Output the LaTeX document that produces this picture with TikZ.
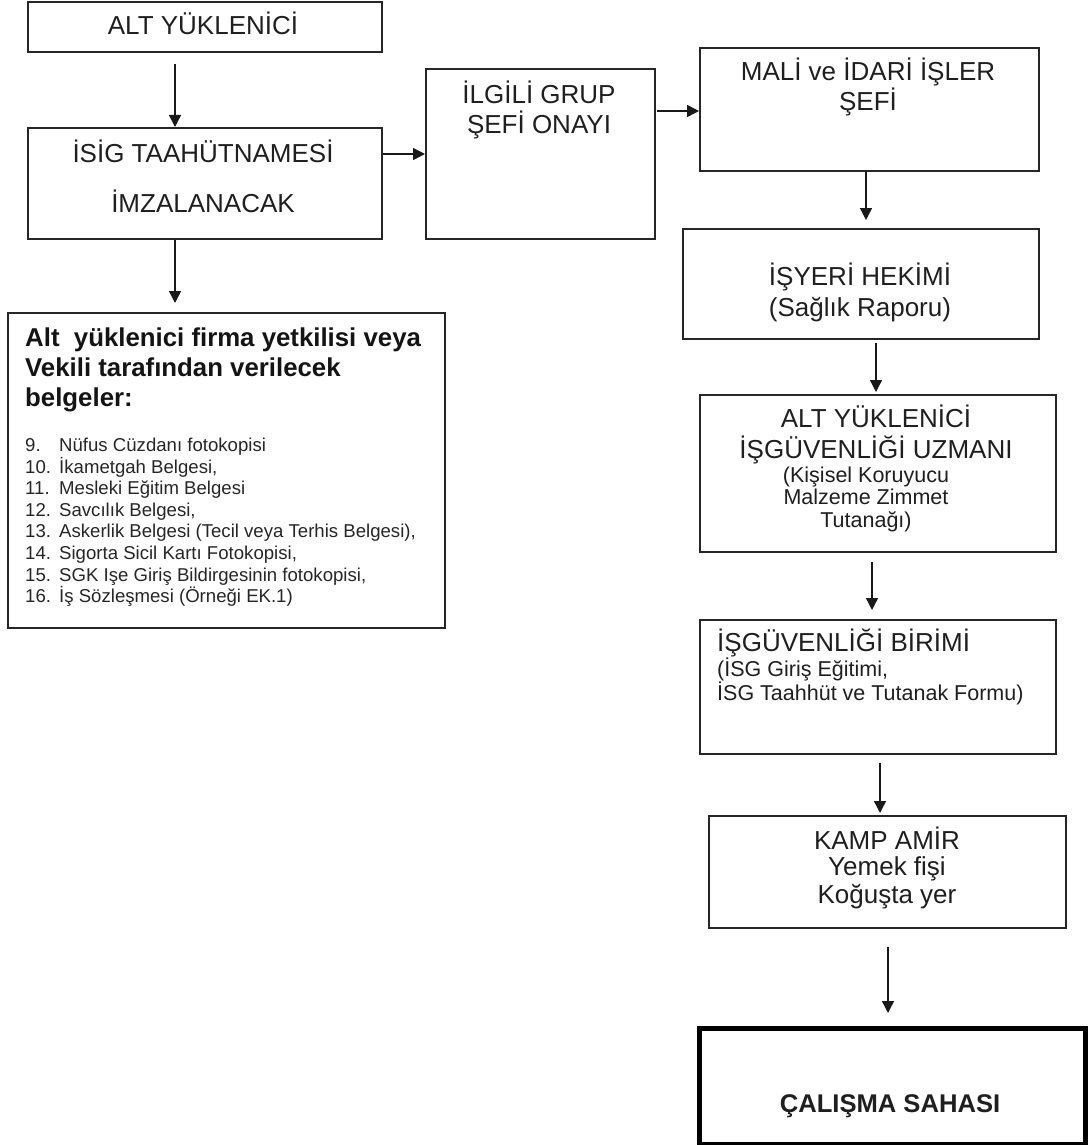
\documentclass[tikz,border=0pt]{standalone}
\usepackage{fontspec}
\setmainfont{Liberation Sans}
\usetikzlibrary{arrows.meta}
\begin{document}
\begin{tikzpicture}[x=1pt,y=-1pt,
  box/.style={draw=black!85, line width=1.6pt, inner sep=0pt, anchor=north west},
  arr/.style={draw=black!90, line width=1.4pt, -{Triangle[length=12pt,width=12pt]}},
  big/.style={font=\fontsize{26}{30}\selectfont, text=black!88, inner sep=0pt, anchor=base},
  bigl/.style={big, anchor=base west},
  small/.style={font=\fontsize{21.5}{24}\selectfont, text=black!88, inner sep=0pt, anchor=base},
  smalll/.style={small, anchor=base west},
  ttl/.style={font=\fontsize{25.8}{30}\selectfont\bfseries, text=black!92, inner sep=0pt, anchor=base west},
  lst/.style={font=\fontsize{18.6}{21}\selectfont, text=black!85, inner sep=0pt, anchor=base west},
]
\fill[white] (0,0) rectangle (1087,1145);
\useasboundingbox (0,0) rectangle (1087,1145);

% boxes
\node[box, minimum width=354pt, minimum height=50pt] (b1) at (27,1) {};
\node[box, minimum width=354pt, minimum height=111pt] (b2) at (27,127) {};
\node[box, minimum width=229pt, minimum height=170pt] (b3) at (425,68) {};
\node[box, minimum width=339pt, minimum height=123pt] (b4) at (699,47) {};
\node[box, minimum width=356pt, minimum height=110pt] (b5) at (682,228) {};
\node[box, minimum width=356pt, minimum height=157pt] (b6) at (699,394) {};
\node[box, minimum width=356pt, minimum height=134pt] (b7) at (699,619) {};
\node[box, minimum width=357pt, minimum height=112pt] (b8) at (708,815) {};
\node[box, line width=5pt, draw=black, minimum width=386pt, minimum height=116pt] (b9) at (697,1026) {};
\node[box, minimum width=437pt, minimum height=315pt] (docs) at (7,312) {};

% texts
\node[big] (t1) at (203,35) {ALT YÜKLENİCİ};
\node[big] (t2a) at (203,162) {İSİG TAAHÜTNAMESİ};
\node[big] (t2b) at (203,212) {İMZALANACAK};
\node[big] (t3a) at (539,103) {İLGİLİ GRUP};
\node[big] (t3b) at (539,133) {ŞEFİ ONAYI};
\node[big] (t4a) at (868,81) {MALİ ve İDARİ İŞLER};
\node[big] (t4b) at (868,111) {ŞEFİ};
\node[big] (t5a) at (860,285) {İŞYERİ HEKİMİ};
\node[big] (t5b) at (860,316) {(Sağlık Raporu)};
\node[big] (t6a) at (876,427) {ALT YÜKLENİCİ};
\node[big] (t6b) at (876,458) {İŞGÜVENLİĞİ UZMANI};
\node[small] (t6c) at (866,482) {(Kişisel Koruyucu};
\node[small] (t6d) at (866,504) {Malzeme Zimmet};
\node[small] (t6e) at (866,527) {Tutanağı)};
\node[bigl] (t7a) at (717,651) {İŞGÜVENLİĞİ BİRİMİ};
\node[smalll] (t7b) at (717,676) {(İSG Giriş Eğitimi,};
\node[smalll] (t7c) at (717,700) {İSG Taahhüt ve Tutanak Formu)};
\node[big] (t8a) at (887,849) {KAMP AMİR};
\node[big] (t8b) at (887,875) {Yemek fişi};
\node[big] (t8c) at (887,903) {Koğuşta yer};
\node[big, font=\fontsize{25.6}{30}\selectfont\bfseries] (t9) at (890,1112) {ÇALIŞMA SAHASI};

\node[ttl] (d1) at (25,346) {Alt\ \ yüklenici firma yetkilisi veya};
\node[ttl] (d2) at (25,376) {Vekili tarafından verilecek};
\node[ttl] (d3) at (25,406) {belgeler:};

\node[lst] (n1) at (25,451) {9.};
\node[lst] (l1) at (59,451) {Nüfus Cüzdanı fotokopisi};
\node[lst] (n2) at (25,473) {10.};
\node[lst] (l2) at (59,473) {İkametgah Belgesi,};
\node[lst] (n3) at (25,494) {11.};
\node[lst] (l3) at (59,494) {Mesleki Eğitim Belgesi};
\node[lst] (n4) at (25,516) {12.};
\node[lst] (l4) at (59,516) {Savcılık Belgesi,};
\node[lst] (n5) at (25,537) {13.};
\node[lst] (l5) at (59,537) {Askerlik Belgesi (Tecil veya Terhis Belgesi),};
\node[lst] (n6) at (25,559) {14.};
\node[lst] (l6) at (59,559) {Sigorta Sicil Kartı Fotokopisi,};
\node[lst] (n7) at (25,581) {15.};
\node[lst] (l7) at (59,581) {SGK Işe Giriş Bildirgesinin fotokopisi,};
\node[lst] (n8) at (25,602) {16.};
\node[lst] (l8) at (59,602) {İş Sözleşmesi (Örneği EK.1)};

% connectors
\coordinate (c1) at (175,64);
\draw[arr] (c1) -- (c1 |- b2.north);
\coordinate (c2) at (175,303);
\draw[arr] (c2 |- b2.south) -- (c2);
\coordinate (c3) at (383,154);
\draw[arr] (c3) -- (c3 -| b3.west);
\coordinate (c4) at (657,111);
\draw[arr] (c4) -- (c4 -| b4.west);
\coordinate (c5) at (866,220);
\draw[arr] (c5 |- b4.south) -- (c5);
\coordinate (c6s) at (876,343);
\coordinate (c6) at (876,392);
\draw[arr] (c6s) -- (c6);
\coordinate (c7s) at (872,562);
\coordinate (c7) at (872,610);
\draw[arr] (c7s) -- (c7);
\coordinate (c8s) at (880,763);
\coordinate (c8) at (880,813);
\draw[arr] (c8s) -- (c8);
\coordinate (c9s) at (888,947);
\coordinate (c9) at (888,1013);
\draw[arr] (c9s) -- (c9);
\end{tikzpicture}
\end{document}
